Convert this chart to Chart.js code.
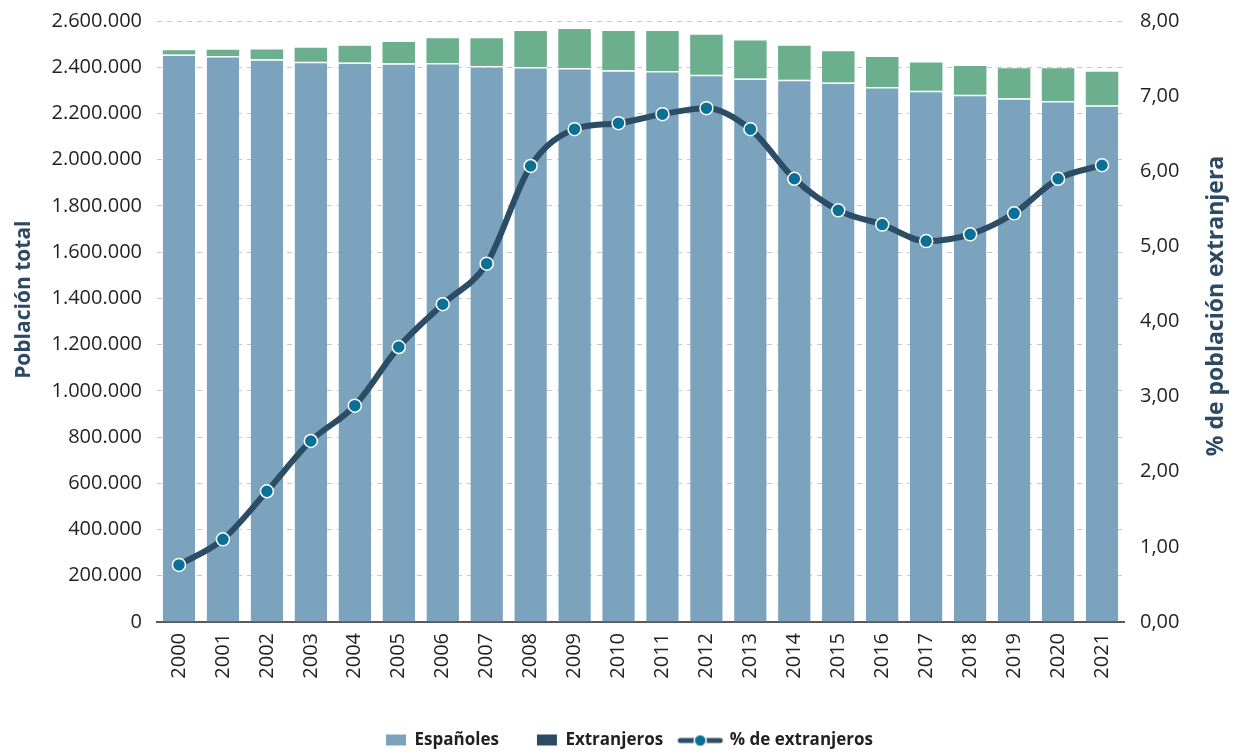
<!DOCTYPE html>
<html>
<head>
<meta charset="utf-8">
<script src="https://cdn.jsdelivr.net/npm/chart.js@4/dist/chart.umd.min.js"></script>
<style>
  body { margin: 0; background: #fff; }
  canvas { display: block; }
</style>
</head>
<body>
<canvas id="grafico" width="1235" height="754"></canvas>
<script>
const anios = ["2000","2001","2002","2003","2004","2005","2006","2007","2008","2009","2010",
  "2011","2012","2013","2014","2015","2016","2017","2018","2019","2020","2021"];
const espanoles = [2455000, 2449000, 2434000, 2424000, 2421000, 2417000, 2418000, 2405000, 2401000, 2397000, 2387000,
  2384000, 2367000, 2351000, 2346000, 2334000, 2315000, 2298000, 2281000, 2266000, 2254000, 2235000];
const extranjeros = [19000, 27000, 43000, 60000, 72000, 92000, 107000, 120000, 156000, 168000, 170000,
  173000, 174000, 165000, 147000, 135000, 129000, 123000, 124000, 130000, 142000, 145000];
const porcentaje = [0.76, 1.10, 1.74, 2.41, 2.88, 3.66, 4.23, 4.77, 6.07, 6.56, 6.64,
  6.76, 6.84, 6.56, 5.90, 5.48, 5.29, 5.07, 5.16, 5.44, 5.90, 6.08];

const AZUL = "#7ba3be";
const VERDE = "#6caf8f";
const LINEA = "#2c4d66";
const PUNTO = "#0b7096";
const OSCURO = "#2e4a63";
const TEXTO = "#231f20";
const FUENTE = "'Open Sans', sans-serif";

// simbolos de la leyenda (52 px de ancho, el texto empieza en +53)
function simbolo(tipo, color) {
  const c = document.createElement("canvas");
  c.width = 52; c.height = 14;
  const g = c.getContext("2d");
  if (tipo === "linea") {
    g.strokeStyle = LINEA; g.lineWidth = 5; g.lineCap = "round";
    g.beginPath(); g.moveTo(7, 7); g.lineTo(47, 7); g.stroke();
    g.fillStyle = PUNTO; g.strokeStyle = "#fff"; g.lineWidth = 1.5;
    g.beginPath(); g.arc(27, 7, 6, 0, Math.PI * 2); g.fill(); g.stroke();
  } else {
    g.fillStyle = color;
    g.fillRect(28, 1, 20, 11);
  }
  return c;
}

const miles = v => String(v).replace(/\B(?=(\d{3})+(?!\d))/g, ".");

// ancho fijo de los ejes verticales, sin relleno extra arriba/abajo
const ajustarEje = ancho => s => {
  s.width = ancho;
  s.paddingTop = 0;
  s.paddingBottom = 0;
};

// baja un poco la leyenda
const moverLeyenda = {
  id: "moverLeyenda",
  afterLayout(chart) {
    chart.legend.top += 5;
    chart.legend.bottom += 5;
  }
};

// titulo del eje derecho, leido de abajo arriba como el izquierdo
const tituloDerecho = {
  id: "tituloDerecho",
  afterDraw(chart) {
    const ctx = chart.ctx;
    const eje = chart.scales.y1;
    ctx.save();
    ctx.translate(eje.right - 19, 306);
    ctx.rotate(-Math.PI / 2);
    ctx.font = "bold 23px " + FUENTE;
    ctx.fillStyle = OSCURO;
    ctx.textAlign = "center";
    ctx.textBaseline = "middle";
    ctx.fillText("% de población extranjera", 0, 0);
    ctx.restore();
  }
};

new Chart(document.getElementById("grafico"), {
  data: {
    labels: anios,
    datasets: [
      {
        type: "line",
        label: "% de extranjeros",
        data: porcentaje,
        yAxisID: "y1",
        order: 0,
        borderColor: LINEA,
        borderWidth: 6,
        cubicInterpolationMode: "monotone",
        pointRadius: 6.5,
        pointBackgroundColor: PUNTO,
        pointBorderColor: "#fff",
        pointBorderWidth: 1.5
      },
      {
        type: "bar",
        label: "Españoles",
        data: espanoles,
        yAxisID: "y",
        order: 1,
        backgroundColor: AZUL,
        borderColor: "#fff",
        borderWidth: { top: 1.5, left: 0, right: 0, bottom: 0 },
        borderSkipped: false,
        categoryPercentage: 1,
        barPercentage: 0.74
      },
      {
        type: "bar",
        label: "Extranjeros",
        data: extranjeros,
        yAxisID: "y",
        order: 2,
        backgroundColor: VERDE,
        borderWidth: 0,
        categoryPercentage: 1,
        barPercentage: 0.74
      }
    ]
  },
  options: {
    responsive: false,
    animation: false,
    layout: { autoPadding: false, padding: { top: 21, right: 0, bottom: 0, left: 0 } },
    plugins: {
      tooltip: { enabled: false },
      legend: {
        position: "bottom",
        labels: {
          usePointStyle: true,
          pointStyleWidth: 44,
          padding: 14,
          color: TEXTO,
          font: { family: FUENTE, size: 17, weight: "bold" },
          generateLabels: () => [
            { text: "Españoles", pointStyle: simbolo("caja", AZUL), fontColor: TEXTO, lineWidth: 0 },
            { text: "Extranjeros", pointStyle: simbolo("caja", OSCURO), fontColor: TEXTO, lineWidth: 0 },
            { text: "% de extranjeros", pointStyle: simbolo("linea"), fontColor: TEXTO, lineWidth: 0 }
          ]
        }
      }
    },
    scales: {
      x: {
        stacked: true,
        grid: { display: false, drawTicks: false },
        border: { display: true, color: "#595959", width: 2 },
        ticks: {
          minRotation: 90, maxRotation: 90, padding: 11,
          color: TEXTO, font: { family: FUENTE, size: 20 }
        },
        afterFit: s => { s.height = 91; }
      },
      y: {
        stacked: true,
        position: "left",
        min: 0, max: 2600000,
        border: { display: false, dash: [5, 5] },
        grid: { color: "#c8c8c8", lineWidth: 1, drawTicks: false },
        ticks: {
          stepSize: 200000, padding: 15,
          color: TEXTO, font: { family: FUENTE, size: 20 },
          callback: v => miles(v)
        },
        title: {
          display: true, text: "        Población total", color: OSCURO,
          padding: { top: 11, bottom: 0 },
          font: { family: FUENTE, size: 21, weight: "bold" }
        },
        afterFit: ajustarEje(157)
      },
      y1: {
        position: "right",
        min: 0, max: 8,
        border: { display: false },
        grid: { display: false, drawTicks: false },
        ticks: {
          stepSize: 1, padding: 16,
          color: TEXTO, font: { family: FUENTE, size: 20 },
          callback: v => v.toFixed(2).replace(".", ",")
        },
        afterFit: ajustarEje(111)
      }
    }
  },
  plugins: [moverLeyenda, tituloDerecho]
});
</script>
</body>
</html>
